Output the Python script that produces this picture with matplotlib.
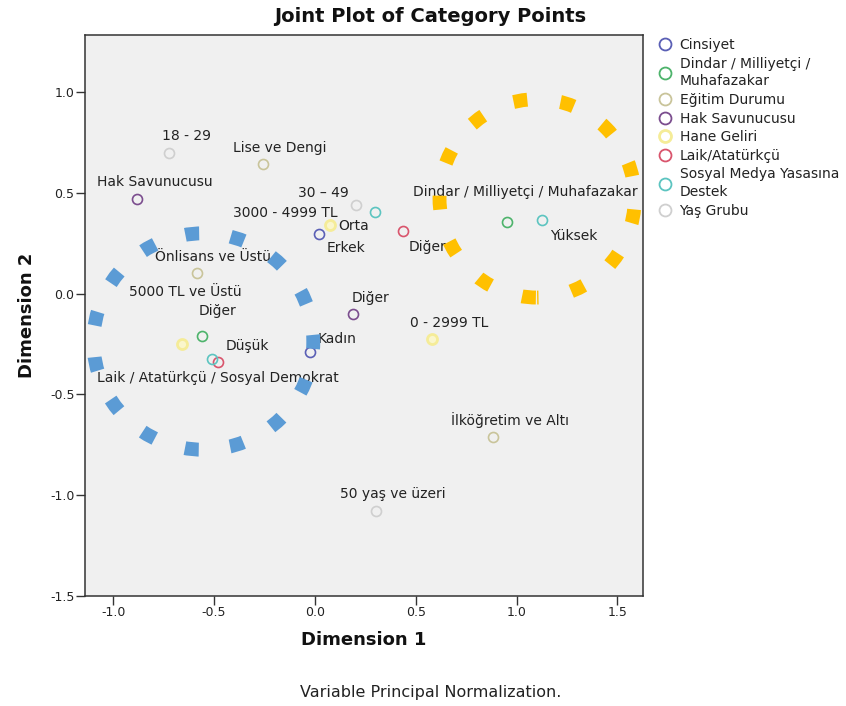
import matplotlib
matplotlib.use("Agg")
import matplotlib.pyplot as plt
from matplotlib.lines import Line2D
from matplotlib.patches import Ellipse

plt.rcParams['font.family'] = ['DejaVu Sans']

# ---- category quantifications (Dimension 1, Dimension 2) per variable ----
variables = ["Cinsiyet", "Dindar / Milliyetçi /\nMuhafazakar", "Eğitim Durumu",
             "Hak Savunucusu", "Hane Geliri", "Laik/Atatürkçü",
             "Sosyal Medya Yasasına\nDestek", "Yaş Grubu"]
variable_colors = ["#5a5fb5", "#4db36b", "#c9c49a", "#7b4d8e",
                   "#f5ec98", "#d9546c", "#5cc4c0", "#cfcfcf"]

cinsiyet_labels = ["Erkek", "Kadın"]
cinsiyet_d1 = [0.018, -0.025]
cinsiyet_d2 = [0.293, -0.288]

dindar_labels = ["Dindar / Milliyetçi / Muhafazakar", "Diğer"]
dindar_d1 = [0.953, -0.561]
dindar_d2 = [0.353, -0.209]

egitim_labels = ["Lise ve Dengi", "Önlisans ve Üstü", "İlköğretim ve Altı"]
egitim_d1 = [-0.258, -0.586, 0.883]
egitim_d2 = [0.641, 0.104, -0.710]

hak_labels = ["Hak Savunucusu", "Diğer"]
hak_d1 = [-0.883, 0.189]
hak_d2 = [0.467, -0.104]

hane_labels = ["3000 - 4999 TL", "5000 TL ve Üstü", "0 - 2999 TL"]
hane_d1 = [0.074, -0.660, 0.581]
hane_d2 = [0.338, -0.248, -0.224]

laik_labels = ["Diğer", "Laik / Atatürkçü / Sosyal Demokrat"]
laik_d1 = [0.437, -0.481]
laik_d2 = [0.308, -0.338]

sosyal_labels = ["Orta", "Yüksek", "Düşük"]
sosyal_d1 = [0.298, 1.127, -0.511]
sosyal_d2 = [0.402, 0.363, -0.323]

yas_labels = ["18 - 29", "30 – 49", "50 yaş ve üzeri"]
yas_d1 = [-0.725, 0.203, 0.303]
yas_d2 = [0.695, 0.437, -1.078]

# label placement relative to each point, in pixels (right, up)
cinsiyet_offsets = [(27, -14), (27, 13)]
dindar_offsets = [(18, 30), (16, 25)]
egitim_offsets = [(17, 16), (16, 16), (17, 17)]
hak_offsets = [(18, 17), (17, 16)]
hane_offsets = [(-45, 12), (4, 52), (17, 16)]
laik_offsets = [(24, -16), (0, -16)]
sosyal_offsets = [(-21, -14), (32, -16), (36, 13)]
yas_offsets = [(18, 17), (-32, 12), (17, 17)]

groups = [
    (cinsiyet_labels, cinsiyet_d1, cinsiyet_d2, cinsiyet_offsets),
    (dindar_labels, dindar_d1, dindar_d2, dindar_offsets),
    (egitim_labels, egitim_d1, egitim_d2, egitim_offsets),
    (hak_labels, hak_d1, hak_d2, hak_offsets),
    (hane_labels, hane_d1, hane_d2, hane_offsets),
    (laik_labels, laik_d1, laik_d2, laik_offsets),
    (sosyal_labels, sosyal_d1, sosyal_d2, sosyal_offsets),
    (yas_labels, yas_d1, yas_d2, yas_offsets),
]

# highlighted clusters: centre (d1, d2), width, height
cluster_centers = [(-0.553, -0.238), (1.102, 0.472)]
cluster_widths = [1.09, 0.968]
cluster_heights = [1.073, 0.984]
cluster_colors = ["#5b9bd5", "#ffc000"]
cluster_dashes = [(1.35, (1.0, 2.29)), (0.9, (1.0, 2.41))]

x_ticks = [-1.0, -0.5, 0.0, 0.5, 1.0, 1.5]
y_ticks = [-1.5, -1.0, -0.5, 0.0, 0.5, 1.0]

fig = plt.figure(figsize=(8.46, 7.06), dpi=100)
ax = fig.add_axes([85 / 846, 1 - 596 / 706, (643 - 85) / 846, (596 - 35) / 706])
ax.set_facecolor("#f0f0f0")
ax.set_xlim(-1.14, 1.627)
ax.set_ylim(-1.5, 1.282)

for (labels, d1, d2, offs), color in zip(groups, variable_colors):
    pale = color == "#f5ec98"
    ax.plot(d1, d2, linestyle="none", marker="o", markersize=7.2,
            markerfacecolor="#faf6cc" if pale else "none",
            markeredgecolor=color, markeredgewidth=2.0 if pale else 1.2,
            zorder=3)
    for lab, x, y, (dx, dy) in zip(labels, d1, d2, offs):
        ax.annotate(lab, (x, y), xytext=(dx, dy), textcoords="offset pixels",
                    ha="center", va="center", fontsize=10, color="#222222",
                    zorder=4)

for (cx, cy), w, h, c, ls in zip(cluster_centers, cluster_widths, cluster_heights,
                                 cluster_colors, cluster_dashes):
    ax.add_patch(Ellipse((cx, cy), w, h, fill=False, edgecolor=c,
                         linewidth=10, linestyle=ls, capstyle="butt",
                         zorder=6))

ax.set_xticks(x_ticks)
ax.set_yticks(y_ticks)
ax.set_xticklabels([f"{v:.1f}" for v in x_ticks])
ax.set_yticklabels([f"{v:.1f}" for v in y_ticks])
ax.tick_params(axis="both", direction="out", length=6.5, width=1.0,
               color="#333333", labelsize=9, labelcolor="#222222", pad=1)
for sp in ax.spines.values():
    sp.set_color("#333333")
    sp.set_linewidth(1.1)

ax.set_xlabel("Dimension 1", fontsize=13, fontweight="bold", labelpad=8,
              color="#111111")
ax.set_ylabel("Dimension 2", fontsize=13, fontweight="bold", labelpad=10,
              color="#111111")

fig.text(430 / 846, 1 - 17 / 706, "Joint Plot of Category Points",
         ha="center", va="center", fontsize=14, fontweight="bold",
         color="#111111")
fig.text(431 / 846, 1 - 692 / 706, "Variable Principal Normalization.",
         ha="center", va="center", fontsize=11.5, color="#222222")

handles = [Line2D([], [], linestyle="none", marker="o", markersize=8.6,
                  markerfacecolor="none", markeredgecolor=c,
                  markeredgewidth=2.0 if c == "#f5ec98" else 1.3)
           for c in variable_colors]
leg = fig.legend(handles, variables, loc="upper left",
                 bbox_to_anchor=(658 / 846, 1 - 38 / 706), frameon=False,
                 fontsize=10, handlelength=1.0, handletextpad=0.55,
                 labelspacing=0.33, borderpad=0, borderaxespad=0,
                 labelcolor="#222222")
for t in leg.get_texts():
    t.set_linespacing(1.35)

fig.savefig("out.png", dpi=100)
